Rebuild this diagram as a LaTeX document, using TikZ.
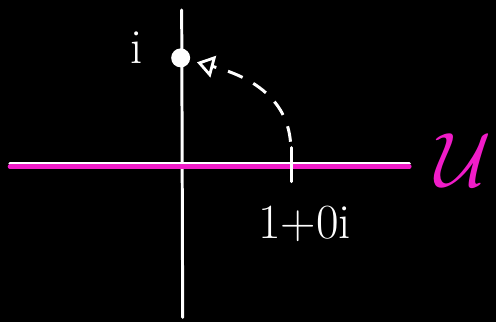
\RequirePackage{fix-cm}
\documentclass[tikz,border=0pt]{standalone}
\usepackage{tikz}
\usetikzlibrary{arrows.meta,positioning}
\definecolor{cpink}{HTML}{F01CC8}

\begin{document}
\begin{tikzpicture}[x=0.02cm,y=-0.02cm,
  axis/.style={draw=white,line width=1.7pt,line cap=round},
  uline/.style={draw=cpink,line width=2.6pt,line cap=round},
  pt/.style={circle,fill=white,inner sep=0pt,minimum size=0.38cm},
  lbl/.style={text=white,font=\fontsize{28}{32}\selectfont},
  rot/.style={draw=white,line width=1.7pt,dash pattern=on 9pt off 7pt,
    -{Triangle[open,length=3.4mm,width=4.4mm,line width=1.6pt]},shorten >=4pt}]
  \fill[black] (0,0) rectangle (497,323);
  % axes
  \draw[axis] (10,164) -- (410,164);
  \draw[axis] (182,10) -- (183,318);
  \draw[uline] (10,167) -- (410,167);
  \draw[axis] (292,148) -- (292,182);
  % points and labels
  \node[pt] (img) at (181,58) {};
  \node[lbl] (ilbl) at (137,48) {i};
  \node[lbl] (one) at (305,224) {1+0i};
  \node[text=cpink,font=\fontsize{44}{48}\selectfont] (U) at (464,160) {$\mathcal{U}$};
  % rotation arc
  \coordinate (arcstart) at (291,142);
  \draw[rot] (arcstart) to[out=95,in=-15] (img);
\end{tikzpicture}
\end{document}
